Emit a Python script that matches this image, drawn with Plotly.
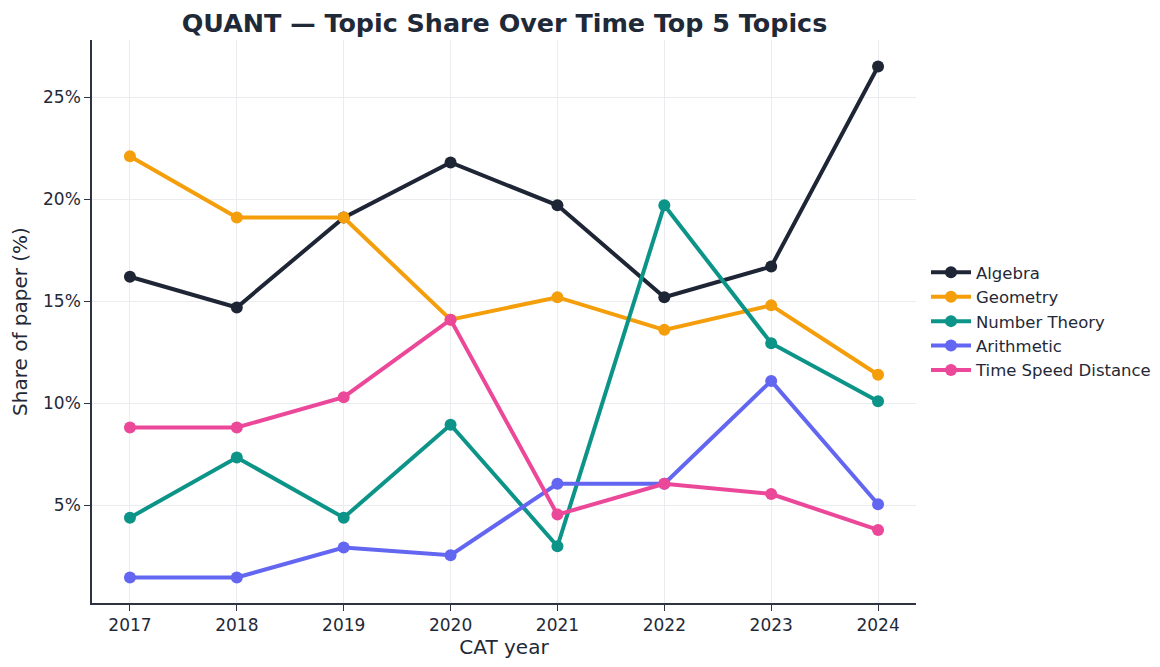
import plotly.graph_objects as go

years = [2017, 2018, 2019, 2020, 2021, 2022, 2023, 2024]
algebra = [16.2, 14.7, 19.1, 21.8, 19.7, 15.2, 16.7, 26.5]
geometry = [22.1, 19.1, 19.1, 14.1, 15.2, 13.6, 14.8, 11.4]
number_theory = [4.4, 7.35, 4.4, 8.95, 3.0, 19.7, 12.95, 10.1]
arithmetic = [1.47, 1.47, 2.94, 2.56, 6.06, 6.06, 11.1, 5.06]
tsd = [8.82, 8.82, 10.3, 14.1, 4.55, 6.06, 5.56, 3.8]

series = [
    ("Algebra", algebra, "#1e2535"),
    ("Geometry", geometry, "#f59e0b"),
    ("Number Theory", number_theory, "#0d9488"),
    ("Arithmetic", arithmetic, "#6366f1"),
    ("Time Speed Distance", tsd, "#ec4899"),
]
ytick_vals = [5, 10, 15, 20, 25]
ytick_text = ["5%", "10%", "15%", "20%", "25%"]

text_color = "#1f2937"
font_family = "DejaVu Sans"

# page has an 8px body offset
OFF = 8
W, H = 1160, 667
plot_l, plot_r, plot_t, plot_b = 92 - OFF, 917 - OFF, 40 - OFF, 603 - OFF

fig = go.Figure()
for name, vals, color in series:
    fig.add_trace(go.Scatter(
        x=years, y=vals, name=name, mode="lines+markers",
        line=dict(color=color, width=4),
        marker=dict(color=color, size=12),
    ))

fig.update_layout(
    width=W, height=H,
    margin=dict(l=plot_l, r=W - plot_r, t=plot_t, b=H - plot_b),
    paper_bgcolor="white", plot_bgcolor="white",
    font=dict(family=font_family, color=text_color, size=17),
    title=dict(
        text="<b>QUANT — Topic Share Over Time Top 5 Topics</b>",
        x=(plot_l + plot_r) / 2 / W, xanchor="center",
        y=1 - 15.5 / H, yanchor="middle",
        font=dict(size=25.4, color=text_color, family=font_family),
    ),
    legend=dict(
        x=1.0 + 9 / (plot_r - plot_l), y=0.5, xanchor="left", yanchor="middle",
        font=dict(size=16.5, color=text_color),
        bgcolor="rgba(0,0,0,0)",
        itemwidth=40,
    ),
    showlegend=True,
)
fig.update_xaxes(
    range=[2016.645, 2024.355],
    tickvals=years, ticktext=[str(y) for y in years],
    showgrid=True, gridcolor="#ebecef", gridwidth=1,
    showline=True, linecolor="#2d3340", linewidth=1.5,
    ticks="outside", ticklen=6, tickcolor="#2d3340", tickwidth=1.3,
    zeroline=False, mirror=False,
    title=dict(text="CAT year", font=dict(size=20), standoff=6),
    tickfont=dict(size=17),
)
fig.update_yaxes(
    range=[0.22, 27.8],
    tickvals=ytick_vals, ticktext=ytick_text,
    showgrid=True, gridcolor="#ebecef", gridwidth=1,
    showline=True, linecolor="#2d3340", linewidth=1.5,
    ticks="outside", ticklen=6, tickcolor="#2d3340", tickwidth=1.3,
    zeroline=False, mirror=False,
    title=dict(text="Share of paper (%)", font=dict(size=20), standoff=10),
    tickfont=dict(size=17),
)

fig.write_html("out.html")
